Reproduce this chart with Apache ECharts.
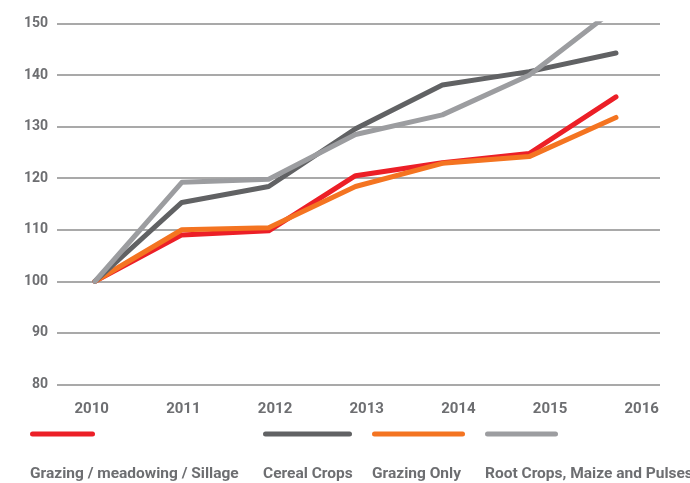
<!DOCTYPE html>
<html>
<head>
<meta charset="utf-8">
<script src="https://cdn.jsdelivr.net/npm/echarts@6/dist/echarts.min.js"></script>
<style>
  html, body { margin: 0; padding: 0; background: #fff; }
  #main { width: 690px; height: 483px; }
</style>
</head>
<body>
<div id="main"></div>
<script>
// years on the x axis
var years = [2010, 2011, 2012, 2013, 2014, 2015, 2016];
var yearLabels = ["2010", "2011", "2012", "2013", "2014", "2015", "2016"];

// index values (2010 = 100)
var grazingMeadowing = [100, 109.0, 109.8, 120.5, 123.0, 124.8, 135.8];
var cerealCrops = [100, 115.3, 118.4, 129.6, 138.1, 140.7, 144.3];
var grazingOnly = [100, 110.0, 110.4, 118.4, 122.9, 124.2, 131.8];
var rootCrops = [100, 119.2, 119.8, 128.5, 132.3, 140.0, 153.0];

var seriesNames = [
  "Grazing / meadowing / Sillage",
  "Cereal Crops",
  "Grazing Only",
  "Root Crops, Maize and Pulses"
];

var COLORS = {
  red: "#ec1f27",
  dark: "#616264",
  orange: "#f47421",
  light: "#9c9da0"
};
var TEXT = "#6d6e71";
var FONT = "Roboto";

function pairs(vals) {
  return vals.map(function (v, i) { return [years[i], v]; });
}

function lineSeries(name, vals, color) {
  return {
    name: name,
    type: "line",
    xAxisIndex: 0,
    yAxisIndex: 0,
    data: pairs(vals),
    symbol: "none",
    clip: true,
    lineStyle: { color: color, width: 5, cap: "round", join: "round" },
    itemStyle: { color: color }
  };
}

function legendItem(x1, x2, color, label) {
  return [
    {
      type: "line",
      shape: { x1: x1 + 2.5, y1: 434, x2: x2 - 2.5, y2: 434 },
      style: { stroke: color, lineWidth: 5, lineCap: "round" }
    },
    {
      type: "text",
      left: x1,
      top: 466,
      style: {
        text: label,
        fill: TEXT,
        font: "bold 15.5px " + FONT
      }
    }
  ];
}

var myChart = echarts.init(document.getElementById("main"));
myChart.setOption({
  animation: false,
  grid: [
    { left: 57, right: 30, top: 23.7, bottom: 98.7 },
    { left: 91.7, right: 48.3, top: 23.7, bottom: 98.7 }
  ],
  xAxis: [
    {
      type: "value",
      gridIndex: 0,
      min: 2009.562,
      max: 2016.507,
      show: false
    },
    {
      type: "category",
      gridIndex: 1,
      data: yearLabels,
      boundaryGap: false,
      axisLine: { show: false },
      axisTick: { show: false },
      splitLine: { show: false },
      axisLabel: {
        margin: 17,
        color: TEXT,
        fontFamily: FONT,
        fontWeight: "bold",
        fontSize: 15
      }
    }
  ],
  yAxis: [
    {
      type: "value",
      gridIndex: 0,
      min: 80,
      max: 150,
      interval: 10,
      axisLine: { show: false },
      axisTick: { show: false },
      splitLine: { lineStyle: { color: "#8d8d8d", width: 1.5 } },
      axisLabel: {
        margin: 9,
        color: TEXT,
        fontFamily: FONT,
        fontWeight: "bold",
        fontSize: 14
      }
    },
    { type: "value", gridIndex: 1, show: false, min: 80, max: 150 }
  ],
  series: [
    lineSeries(seriesNames[0], grazingMeadowing, COLORS.red),
    lineSeries(seriesNames[2], grazingOnly, COLORS.orange),
    lineSeries(seriesNames[1], cerealCrops, COLORS.dark),
    lineSeries(seriesNames[3], rootCrops, COLORS.light)
  ],
  graphic: [].concat(
    legendItem(30, 95, COLORS.red, seriesNames[0]),
    legendItem(263, 352, COLORS.dark, seriesNames[1]),
    legendItem(372, 465, COLORS.orange, seriesNames[2]),
    legendItem(485, 558, COLORS.light, seriesNames[3])
  )
});
</script>
</body>
</html>
